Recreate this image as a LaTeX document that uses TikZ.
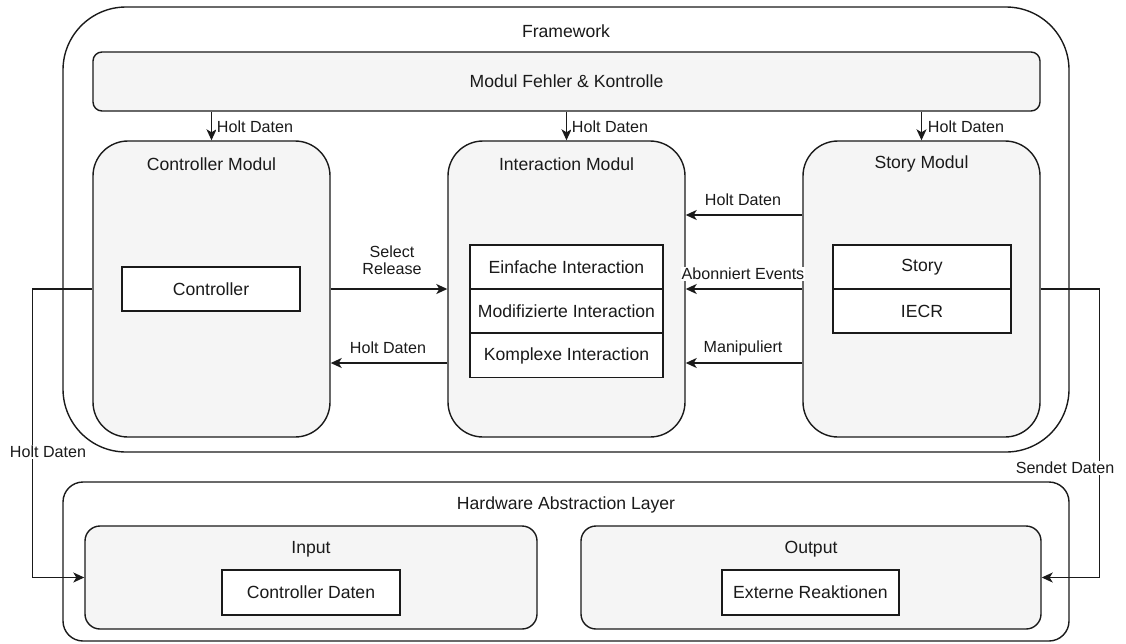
\documentclass[tikz,border=0pt]{standalone}
\usepackage{fontspec}
\setmainfont{Liberation Sans}
\usetikzlibrary{arrows.meta,calc}
\definecolor{boxgray}{HTML}{F5F5F5}
\definecolor{ink}{HTML}{1A1A1A}

\begin{document}
\begin{tikzpicture}[x=1pt,y=-1pt,
  every node/.style={font=\fontsize{17.6}{21}\selectfont, text=ink},
  outerbox/.style={draw=ink, line width=1.4pt, fill=white, inner sep=0pt, rounded corners=#1},
  module/.style={draw=ink, line width=1.4pt, fill=boxgray, inner sep=0pt, rounded corners=#1},
  cell/.style={draw=ink, line width=1.4pt, fill=white, inner sep=0pt, minimum height=44pt},
  title/.style={inner sep=0pt},
  lbl/.style={fill=white, inner sep=1pt, font=\fontsize{16.1}{19}\selectfont, align=center},
  conn/.style={draw=ink, line width=1.4pt, -{Stealth[length=11pt,width=10pt,inset=3pt]}}
]
\useasboundingbox (0,0) rectangle (1126,643);

% ---------- Framework ----------
\node[outerbox=63pt, minimum width=1006pt, minimum height=445pt] (fw) at (566,229.5) {};
\node[title] (fwtitle) at (566,31) {Framework};

\node[module=9pt, minimum width=947pt, minimum height=59pt] (fehler) at (566.5,81.5) {Modul Fehler \& Kontrolle};

\node[module=35pt, minimum width=237pt, minimum height=296pt] (ctrl)  at (211.5,289) {};
\node[module=35pt, minimum width=237pt, minimum height=296pt] (inter) at (566.5,289) {};
\node[module=35pt, minimum width=237pt, minimum height=296pt] (story) at (921.5,289) {};
\node[title] (ctrltitle)  at (211.5,164) {Controller Modul};
\node[title] (intertitle) at (566.5,164) {Interaction Modul};
\node[title] (storytitle) at (921.5,164) {Story Modul};

\node[cell, minimum width=178pt] (controller) at (211,289) {Controller};

\node[cell, minimum width=193pt] (einfach) at (566.5,267) {Einfache Interaction};
\node[cell, minimum width=193pt] (modif)   at (566.5,311) {Modifizierte Interaction};
\node[cell, minimum width=193pt] (komplex) at (566.5,355.5) {Komplexe Interaction};

\node[cell, minimum width=178pt] (storycell) at (922,267) {Story};
\node[cell, minimum width=178pt] (iecr)      at (922,311) {IECR};

% ---------- Hardware Abstraction Layer ----------
\node[outerbox=20pt, minimum width=1006pt, minimum height=159pt] (hal) at (566,561.5) {};
\node[title] (haltitle) at (566,505) {Hardware Abstraction Layer};

\node[module=15pt, minimum width=452pt, minimum height=103pt] (input)  at (311,577.5) {};
\node[module=15pt, minimum width=460pt, minimum height=103pt] (output) at (811,577.5) {};
\node[title] (inputtitle)  at (311,549) {Input};
\node[title] (outputtitle) at (811,549) {Output};

\node[cell, minimum width=178pt, minimum height=45pt] (cdaten) at (311,592.5) {Controller Daten};
\node[cell, minimum width=177pt, minimum height=45pt] (extern) at (810.5,592.5) {Externe Reaktionen};

% ---------- Connectors ----------
\draw[conn] (fehler.south -| ctrl.north)  -- (ctrl.north);
\draw[conn] (fehler.south -| inter.north) -- (inter.north);
\draw[conn] (fehler.south -| story.north) -- (story.north);

\draw[conn] (ctrl.east) -- (inter.west);
\draw[conn] ([yshift=-74pt]inter.west) -- ([yshift=-74pt]ctrl.east);

\draw[conn] ([yshift=74pt]story.west) -- ([yshift=74pt]inter.east);
\draw[conn] (story.west) -- (inter.east);
\draw[conn] ([yshift=-74pt]story.west) -- ([yshift=-74pt]inter.east);

\draw[conn] (ctrl.west) -- ++(-60,0) |- (input.west);
\draw[conn] (story.east) -- ++(59,0) |- (output.east);

% ---------- Connector labels ----------
\node[lbl] (l1) at (255,127) {Holt Daten};
\node[lbl] (l2) at (610,127) {Holt Daten};
\node[lbl] (l3) at (966,127) {Holt Daten};
\node[lbl, inner sep=0pt] (l4) at (392,260) {Select\\[-2pt]Release};
\node[lbl] (l5) at (388,348) {Holt Daten};
\node[lbl] (l6) at (743,200) {Holt Daten};
\node[lbl] (l7) at (743,274) {Abonniert Events};
\node[lbl] (l8) at (743,348) {Manipuliert};
\node[lbl] (l9) at (48,452) {Holt Daten};
\node[lbl] (l10) at (1065,468) {Sendet Daten};
\end{tikzpicture}
\end{document}
